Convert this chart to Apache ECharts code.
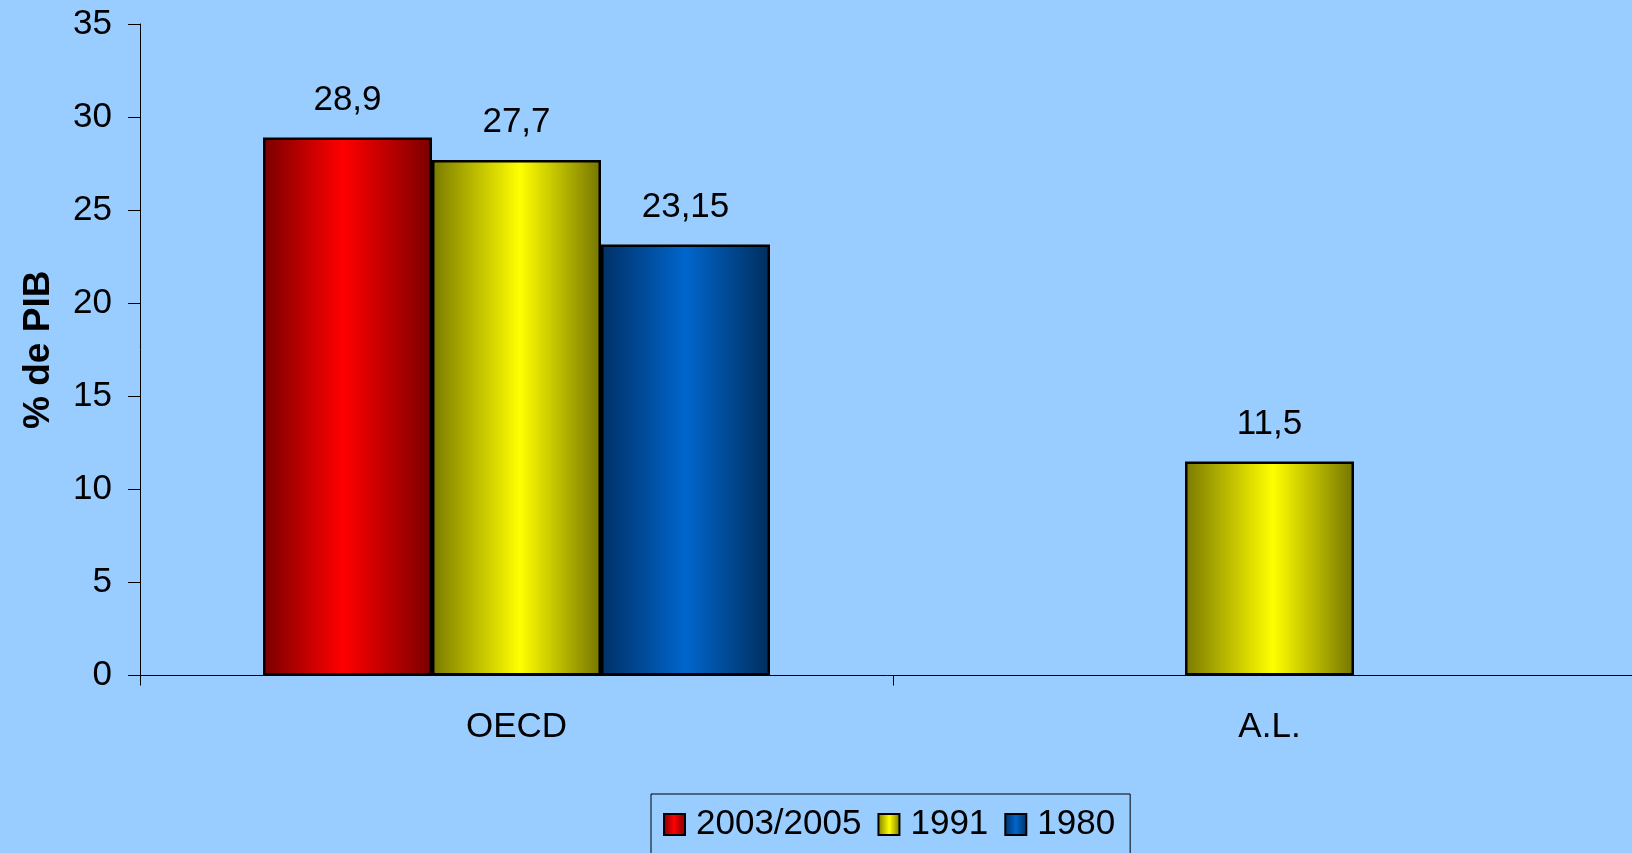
<!DOCTYPE html>
<html>
<head>
<meta charset="utf-8">
<script src="https://cdn.jsdelivr.net/npm/echarts@6/dist/echarts.min.js"></script>
<style>
  html, body { margin: 0; padding: 0; background: #99ccff; }
  #chart { width: 1632px; height: 853px; }
</style>
</head>
<body>
<div id="chart"></div>
<script>
// categorias y valores (% de PIB)
const categories = ['OECD', 'A.L.'];
const seriesNames = ['2003/2005', '1991', '1980'];
const values2003 = [28.9, '-'];
const values1991 = [27.7, 11.5];
const values1980 = [23.15, '-'];
const yTicks = { min: 0, max: 35, interval: 5 };

const FONT = '"Liberation Sans", Arial, sans-serif';

// gradiente horizontal: oscuro en los bordes, brillante al centro
function barGradient(edgeL, mid, edgeR, midAt) {
  return new echarts.graphic.LinearGradient(0, 0, 1, 0, [
    { offset: 0, color: edgeL },
    { offset: midAt, color: mid },
    { offset: 1, color: edgeR }
  ]);
}

const colors = [
  barGradient('#780000', '#ff0000', '#7a0000', 0.47),
  barGradient('#7a7a00', '#ffff00', '#757500', 0.52),
  barGradient('#003066', '#0066cc', '#002e5e', 0.5)
];

const chart = echarts.init(document.getElementById('chart'));

const labelCfg = {
  show: true,
  position: 'top',
  distance: 20,
  color: '#000',
  fontFamily: FONT,
  fontSize: 35,
  formatter: (p) => String(p.value).replace('.', ',')
};

const dataSets = [values2003, values1991, values1980];

const option = {
  backgroundColor: '#99ccff',
  animation: false,
  grid: { left: 140, top: 24, bottom: 177.5, width: 1506, outerBoundsMode: 'none', containLabel: false },
  legend: {
    left: 651,
    top: 794,
    padding: [13, 15, 30, 12],
    borderColor: '#000',
    borderWidth: 1,
    itemWidth: 21,
    itemHeight: 21,
    itemGap: 16,
    icon: 'rect',
    textStyle: { fontFamily: FONT, fontSize: 35, color: '#000', padding: [0, 0, 0, 6] },
    itemStyle: { borderColor: '#000', borderWidth: 2 },
    data: seriesNames
  },
  xAxis: {
    type: 'category',
    data: categories,
    axisLine: { lineStyle: { color: '#000', width: 1 } },
    axisTick: { show: true, length: 10, lineStyle: { color: '#000' } },
    axisLabel: { margin: 34, fontFamily: FONT, fontSize: 35, color: '#000' }
  },
  yAxis: {
    type: 'value',
    min: yTicks.min,
    max: yTicks.max,
    interval: yTicks.interval,
    name: '% de PIB',
    nameLocation: 'middle',
    nameGap: 83,
    nameTextStyle: { fontFamily: FONT, fontSize: 37, fontWeight: 'bold', color: '#000' },
    splitLine: { show: false },
    axisLine: { show: true, lineStyle: { color: '#000', width: 1 } },
    axisTick: { show: true, length: 12, lineStyle: { color: '#000' } },
    axisLabel: { margin: 28, fontFamily: FONT, fontSize: 35, color: '#000' }
  },
  series: seriesNames.map((name, i) => ({
    name: name,
    type: 'bar',
    data: dataSets[i],
    barWidth: 169,
    barGap: '0%',
    itemStyle: { color: colors[i], borderColor: '#000', borderWidth: 2.5 },
    label: labelCfg
  }))
};

chart.setOption(option);
</script>
</body>
</html>
